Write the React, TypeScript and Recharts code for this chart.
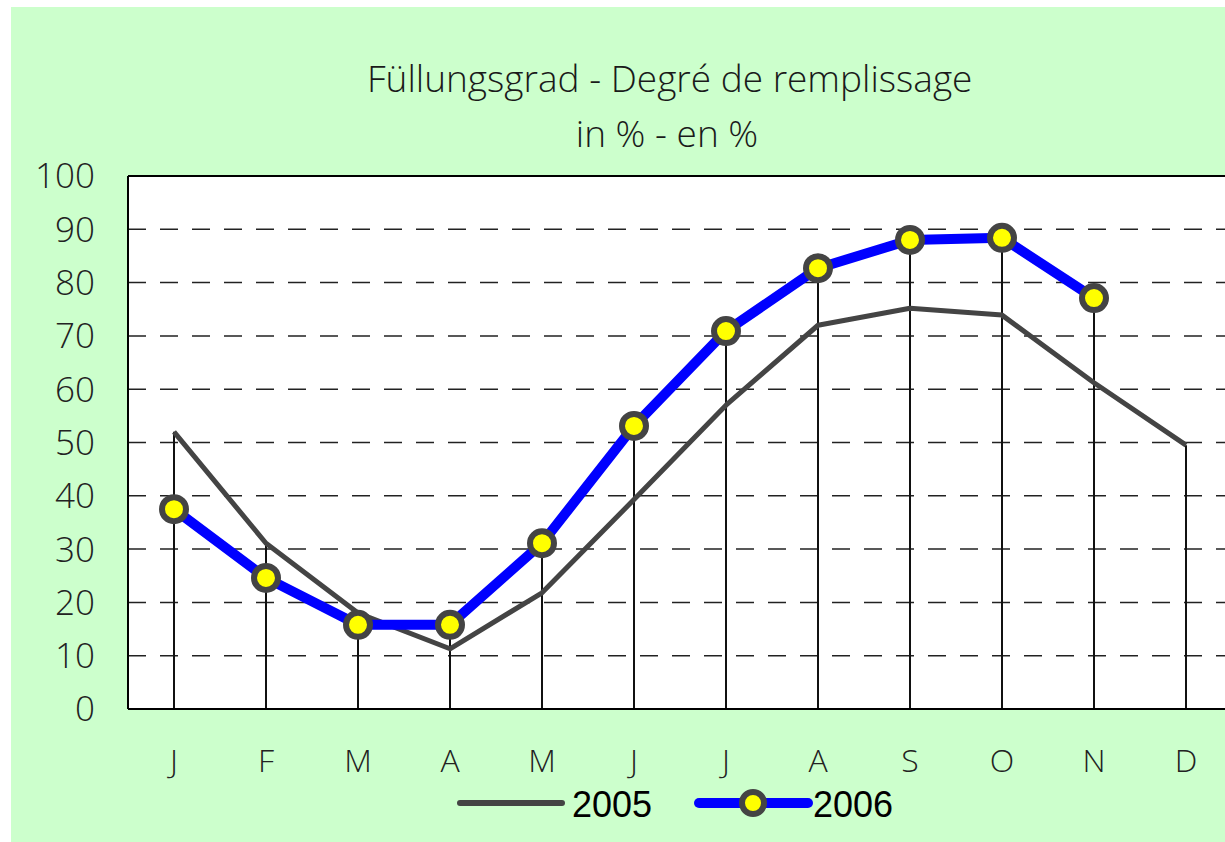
import { ComposedChart, Line, Bar, XAxis, YAxis, CartesianGrid, ReferenceLine } from 'recharts';

const months = ['J', 'F', 'M', 'A', 'M', 'J', 'J', 'A', 'S', 'O', 'N', 'D'];
const fill2005 = [52.0, 31.1, 18.0, 11.3, 21.8, 39.3, 57.0, 72.0, 75.2, 73.9, 61.2, 49.5];
const fill2006: (number | null)[] = [37.5, 24.6, 15.8, 15.8, 31.1, 53.1, 70.9, 82.7, 88.0, 88.4, 77.1, null];
const yTicks = [0, 10, 20, 30, 40, 50, 60, 70, 80, 90, 100];

const titleLines = ['Füllungsgrad - Degré de remplissage', 'in % - en %'];

const data = months.map((m, i) => ({
  idx: i,
  y2005: fill2005[i],
  y2006: fill2006[i],
  // drop line goes up to the higher of the two series
  drop: Math.max(fill2005[i], fill2006[i] ?? 0),
}));

const labelFont = '"Open Sans", sans-serif';

// thin vertical line instead of a bar
const DropLine = (props: any) => {
  const { x, y, width, height } = props;
  const cx = x + width / 2;
  return <line x1={cx} x2={cx} y1={y} y2={y + height} stroke="#111" strokeWidth={2} />;
};

function LegendBox() {
  return (
    <svg width={1225} height={60} style={{ position: 'absolute', left: 0, top: 775 }}>
      <line x1={460} x2={562} y1={28} y2={28} stroke="#444" strokeWidth={6} strokeLinecap="round" />
      <text x={572} y={42} fontSize={36} fontFamily='"Liberation Sans", Arial, sans-serif' fill="#000">2005</text>
      <line x1={699} x2={808} y1={28} y2={28} stroke="#0000FF" strokeWidth={10} strokeLinecap="round" />
      <circle cx={753} cy={28} r={11} fill="#FFFF00" stroke="#444" strokeWidth={6} />
      <text x={813} y={42} fontSize={36} fontFamily='"Liberation Sans", Arial, sans-serif' fill="#000">2006</text>
    </svg>
  );
}

export default function App() {
  return (
    <div style={{ position: 'absolute', left: 0, top: 0, width: 1225, height: 842, overflow: 'hidden', background: '#fff' }}>
      <div style={{ position: 'absolute', left: 11, top: 7, right: 0, bottom: 0, background: '#CCFFCC' }} />

      {titleLines.map((t, i) => (
        <div
          key={i}
          style={{
            position: 'absolute',
            left: 367,
            width: 600,
            top: 54 + i * 55,
            textAlign: 'center',
            fontFamily: labelFont,
            fontWeight: 300,
            fontSize: 37,
            lineHeight: '48px',
            color: '#1a1a1a',
            whiteSpace: 'nowrap',
          }}
        >
          {t}
        </div>
      ))}

      <ComposedChart
        width={1300}
        height={842}
        data={data}
        margin={{ top: 176, right: 68, bottom: 0, left: 0 }}
        style={{ position: 'absolute', left: 0, top: 0 }}
      >
        <CartesianGrid
          vertical={false}
          fill="#fff"
          stroke="#222"
          strokeWidth={1.5}
          strokeDasharray="18 14"
        />
        <XAxis
          dataKey="idx"
          height={133}
          tickFormatter={(i: number) => months[i]}
          tick={{ fontSize: 32, fill: '#222', fontFamily: labelFont, fontWeight: 300 }}
          tickLine={false}
          tickSize={0}
          tickMargin={40}
          axisLine={{ stroke: '#000', strokeWidth: 2 }}
        />
        <YAxis
          width={128}
          domain={[0, 100]}
          ticks={yTicks}
          interval={0}
          tick={{ fontSize: 35, fill: '#222', fontFamily: labelFont, fontWeight: 300 }}
          tickLine={false}
          tickSize={0}
          tickMargin={33}
          axisLine={{ stroke: '#000', strokeWidth: 2 }}
        />
        <ReferenceLine y={100} stroke="#000" strokeWidth={2} />
        <Bar dataKey="drop" barSize={2} shape={<DropLine />} isAnimationActive={false} />
        <Line
          dataKey="y2005"
          stroke="#444"
          strokeWidth={5}
          dot={false}
          strokeLinejoin="round"
          isAnimationActive={false}
        />
        <Line
          dataKey="y2006"
          stroke="#0000FF"
          strokeWidth={10}
          strokeLinejoin="round"
          dot={{ r: 12, fill: '#FFFF00', stroke: '#444', strokeWidth: 6 }}
          isAnimationActive={false}
        />
      </ComposedChart>

      <LegendBox />
    </div>
  );
}
